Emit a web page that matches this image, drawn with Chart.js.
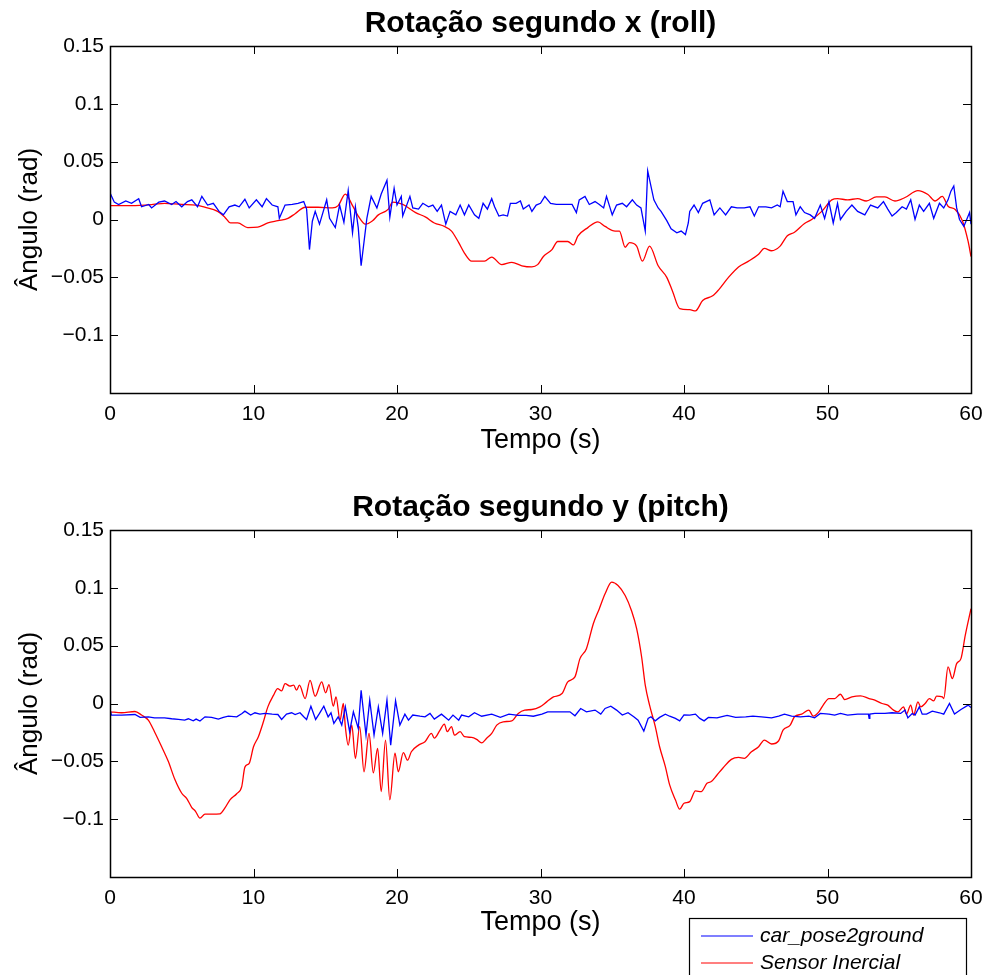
<!DOCTYPE html>
<html>
<head>
<meta charset="utf-8">
<script src="https://cdn.jsdelivr.net/npm/chart.js@4.4.1/dist/chart.umd.min.js"></script>
<style>
  body { margin: 0; background: #fff; }
  canvas { position: absolute; left: 0; }
  #roll { top: 0; }
  #pitch { top: 484px; }
</style>
</head>
<body>
<canvas id="roll" width="987" height="484"></canvas>
<canvas id="pitch" width="987" height="491"></canvas>
<script>
// valores (tempo em s, angulo em rad)
const seriesNames = ['car_pose2ground', 'Sensor Inercial'];
const xTicks = [0, 10, 20, 30, 40, 50, 60];
const yTicks = [-0.15, -0.1, -0.05, 0, 0.05, 0.1, 0.15];

// roll - car_pose2ground
const rollCarT = [0, 0.3, 0.6, 1.1, 1.5, 2.0, 2.2, 2.7, 2.9, 3.4, 3.8, 4.3, 4.6, 5.0, 5.4, 5.7, 6.1, 6.4, 6.8, 7.2, 7.6, 7.9, 8.3, 8.7, 9.0, 9.4, 9.7, 10.2, 10.6, 10.9, 11.3, 11.7, 11.8, 12.2, 12.7, 13.1, 13.5, 13.7, 13.9, 14.1, 14.3, 14.6, 15.1, 15.3, 15.7, 16.0, 16.3, 16.6, 16.9, 17.1, 17.3, 17.5, 17.9, 18.2, 18.6, 18.9, 19.3, 19.5, 19.8, 20.0, 20.3, 20.4, 20.9, 21.1, 21.5, 21.8, 22.2, 22.5, 22.8, 23.1, 23.4, 23.7, 24.1, 24.4, 24.7, 25.0, 25.4, 25.7, 26.0, 26.3, 26.6, 26.8, 27.1, 27.4, 27.7, 27.9, 28.3, 28.6, 28.8, 29.2, 29.4, 29.7, 30.0, 30.3, 30.7, 31.1, 31.6, 32.2, 32.5, 32.7, 33.1, 33.4, 33.8, 34.1, 34.4, 34.6, 35.0, 35.3, 35.7, 36.0, 36.4, 36.7, 37.0, 37.3, 37.47, 37.9, 38.2, 38.4, 38.8, 39.1, 39.5, 39.8, 40.1, 40.3, 40.4, 40.7, 41.0, 41.3, 41.8, 42.1, 42.5, 42.9, 43.3, 43.7, 44.2, 44.6, 44.9, 45.2, 45.7, 46.1, 46.5, 46.7, 46.9, 47.2, 47.6, 47.8, 48.1, 48.4, 48.8, 49.1, 49.5, 49.8, 50.1, 50.4, 50.7, 50.9, 51.3, 51.7, 52.1, 52.6, 53.0, 53.5, 53.9, 54.2, 54.5, 54.8, 55.2, 55.5, 55.8, 56.1, 56.4, 56.7, 57.1, 57.4, 57.8, 58.1, 58.4, 58.6, 58.8, 59.0, 59.2, 59.5, 59.7, 59.9, 60.0];
const rollCar = [0.023, 0.015, 0.013, 0.016, 0.014, 0.018, 0.011, 0.013, 0.010, 0.015, 0.016, 0.013, 0.0155, 0.011, 0.0155, 0.017, 0.011, 0.020, 0.0125, 0.014, 0.007, 0.004, 0.011, 0.0125, 0.011, 0.0175, 0.010, 0.017, 0.011, 0.018, 0.0125, 0.011, 0.001, 0.0125, 0.013, 0.014, 0.0155, 0.009, -0.026, -0.0015, 0.007, -0.004, 0.017, 0.001, -0.007, 0.0125, -0.0025, 0.025, -0.0115, 0.011, -0.007, -0.040, 0.001, 0.020, 0.010, 0.022, 0.034, 0.002, 0.027, 0.0125, 0.020, 0.003, 0.020, 0.010, 0.009, 0.014, 0.011, 0.0125, 0.007, 0.0125, -0.004, 0.007, 0.004, 0.0125, 0.004, 0.0125, 0.004, 0.001, 0.014, 0.009, 0.018, 0.011, 0.003, 0.004, 0.003, 0.014, 0.014, 0.016, 0.009, 0.0125, 0.007, 0.0125, 0.014, 0.020, 0.014, 0.013, 0.013, 0.013, 0.006, 0.017, 0.020, 0.013, 0.0155, 0.013, 0.010, 0.020, 0.004, 0.0125, 0.014, 0.011, 0.017, 0.0125, 0.010, -0.010, 0.042, 0.017, 0.010, 0.007, -0.001, -0.008, -0.0115, -0.010, -0.013, -0.003, 0.007, 0.0125, 0.006, 0.014, 0.017, 0.004, 0.010, 0.004, 0.011, 0.010, 0.010, 0.011, 0.003, 0.011, 0.011, 0.010, 0.0125, 0.011, 0.0245, 0.0155, 0.0155, 0.004, 0.011, 0.006, 0.004, 0.001, 0.0125, 0.001, 0.0155, -0.003, 0.014, 0.0, 0.007, 0.0125, 0.007, 0.004, 0.0125, 0.010, 0.0155, 0.009, 0.003, 0.006, 0.011, 0.009, 0.017, 0.0, 0.0125, 0.007, 0.014, 0.001, 0.014, 0.010, 0.017, 0.0245, 0.029, 0.010, 0.0, -0.006, 0.0, 0.006, -0.004];

// roll - sensor inercial
const rollImuT = [0, 1.5, 3.0, 3.8, 5.0, 6.0, 6.6, 7.5, 8.0, 8.4, 8.9, 9.6, 10.3, 11.0, 11.7, 12.4, 12.9, 13.6, 14.5, 15.5, 15.9, 16.4, 16.9, 17.3, 17.8, 18.3, 18.7, 19.4, 19.7, 20.4, 21.3, 22.0, 22.6, 23.3, 23.8, 24.3, 24.7, 25.2, 25.7, 26.1, 26.6, 27.3, 28.0, 28.7, 29.4, 29.8, 30.2, 30.8, 31.2, 31.9, 32.3, 32.6, 33.3, 34.0, 34.5, 35.2, 35.5, 35.9, 36.2, 36.7, 37.1, 37.6, 38.2, 38.8, 39.2, 39.7, 40.4, 40.8, 41.3, 42.0, 42.4, 43.1, 43.8, 44.5, 45.2, 45.6, 46.1, 46.7, 47.2, 47.7, 48.4, 48.9, 49.6, 50.3, 50.7, 51.4, 52.1, 52.7, 53.4, 54.0, 54.7, 55.4, 56.3, 57.0, 57.5, 58.0, 58.4, 58.9, 59.4, 59.8, 60.0];
const rollImu = [0.012, 0.012, 0.013, 0.014, 0.013, 0.0125, 0.0106, 0.007, 0.002, -0.003, -0.003, -0.007, -0.0066, -0.003, -0.001, 0.001, 0.005, 0.0106, 0.0106, 0.010, 0.012, 0.022, 0.012, 0.003, -0.004, -0.001, 0.004, 0.009, 0.015, 0.013, 0.006, 0.002, -0.003, -0.006, -0.010, -0.020, -0.029, -0.036, -0.036, -0.036, -0.0325, -0.039, -0.037, -0.040, -0.041, -0.039, -0.032, -0.026, -0.019, -0.019, -0.022, -0.0144, -0.007, -0.002, -0.006, -0.010, -0.010, -0.024, -0.020, -0.023, -0.036, -0.023, -0.040, -0.050, -0.062, -0.077, -0.078, -0.079, -0.070, -0.066, -0.061, -0.050, -0.041, -0.036, -0.030, -0.025, -0.027, -0.023, -0.014, -0.011, -0.0034, 0, 0.007, 0.017, 0.018, 0.017, 0.018, 0.016, 0.0195, 0.0195, 0.016, 0.019, 0.025, 0.0216, 0.016, 0.020, 0.0115, 0.0086, -0.001, -0.019, -0.032];

// pitch - car_pose2ground
const pitchCarT = [0, 0.1, 0.81, 1.74, 2.1, 2.67, 3.1, 3.8, 4.3, 4.76, 5.2, 5.46, 5.8, 6.0, 6.27, 6.62, 7.08, 7.55, 7.9, 8.25, 8.83, 9.2, 9.4, 9.8, 10.1, 10.45, 10.8, 11.3, 11.7, 11.96, 12.3, 12.66, 12.9, 13.24, 13.5, 13.7, 14.0, 14.33, 14.6, 14.9, 15.2, 15.4, 15.6, 15.9, 16.15, 16.4, 16.7, 16.96, 17.3, 17.5, 17.84, 18.1, 18.4, 18.7, 19.0, 19.3, 19.56, 19.9, 20.2, 20.55, 20.8, 21.1, 21.6, 21.95, 22.3, 22.6, 23.1, 23.6, 23.9, 24.3, 24.5, 25.0, 25.4, 25.9, 26.6, 27.2, 27.8, 28.45, 29.0, 29.5, 30.1, 30.5, 31.5, 32.05, 32.4, 32.8, 33.2, 33.8, 34.2, 34.5, 34.9, 35.3, 35.7, 36.1, 36.5, 36.8, 37.2, 37.5, 37.7, 38.0, 38.3, 38.7, 39.0, 39.4, 39.7, 40.0, 40.4, 40.8, 41.1, 41.4, 41.7, 42.3, 43.0, 43.6, 44.3, 44.8, 45.4, 46.1, 46.6, 47.0, 47.5, 48.1, 48.7, 49.1, 49.5, 50.1, 50.5, 50.9, 51.4, 52.1, 52.85, 52.9, 52.95, 53.3, 54.0, 54.5, 55.1, 55.4, 55.6, 55.9, 56.1, 56.4, 56.6, 56.9, 57.3, 57.8, 58.1, 58.5, 58.85, 59.3, 59.8, 60.0];
const pitchCar = [-0.005, -0.010, -0.010, -0.0095, -0.012, -0.0115, -0.0124, -0.0124, -0.0132, -0.0138, -0.0144, -0.0132, -0.015, -0.0135, -0.0152, -0.0115, -0.012, -0.0135, -0.012, -0.011, -0.0115, -0.0086, -0.0066, -0.010, -0.008, -0.0092, -0.0086, -0.0092, -0.0095, -0.0138, -0.0092, -0.008, -0.0095, -0.008, -0.0115, -0.0138, -0.0023, -0.0138, -0.0086, -0.0023, -0.0115, -0.008, -0.0172, -0.0115, -0.0187, -0.0029, -0.0244, -0.0072, -0.0216, 0.0115, -0.0273, 0.0029, -0.0273, -0.0029, -0.0259, 0.0029, -0.036, 0.0023, -0.0187, -0.0092, -0.0144, -0.010, -0.011, -0.0115, -0.0086, -0.0135, -0.0092, -0.0144, -0.010, -0.0144, -0.010, -0.0115, -0.008, -0.011, -0.0092, -0.012, -0.0092, -0.0103, -0.0103, -0.011, -0.0092, -0.0072, -0.0072, -0.0072, -0.0106, -0.0043, -0.0072, -0.0057, -0.0092, -0.0043, -0.0023, -0.0057, -0.010, -0.008, -0.0115, -0.0144, -0.0239, -0.0129, -0.0115, -0.015, -0.012, -0.0092, -0.011, -0.0129, -0.015, -0.0098, -0.010, -0.0092, -0.0129, -0.015, -0.012, -0.0124, -0.0103, -0.012, -0.0115, -0.011, -0.0115, -0.0124, -0.011, -0.0092, -0.011, -0.0115, -0.011, -0.0124, -0.0086, -0.0092, -0.010, -0.0086, -0.010, -0.0092, -0.0092, -0.0129, -0.0092, -0.0086, -0.0086, -0.008, -0.0086, -0.0057, -0.0124, -0.0086, -0.010, -0.0029, -0.0092, -0.0092, -0.0066, -0.008, -0.0092, 0, -0.0092, -0.0052, -0.0014, -0.0035];

// pitch - sensor inercial
const pitchImuT = [0, 0.81, 1.74, 2.2, 2.67, 3.1, 3.6, 4.06, 4.53, 5.0, 5.34, 5.69, 5.97, 6.27, 6.62, 7.08, 7.66, 8.0, 8.36, 8.83, 9.18, 9.4, 9.7, 10.0, 10.34, 10.69, 11.0, 11.4, 11.68, 11.96, 12.2, 12.54, 12.8, 13.0, 13.2, 13.6, 13.94, 14.3, 14.75, 15.03, 15.26, 15.56, 15.75, 16.03, 16.26, 16.4, 16.6, 16.85, 17.1, 17.4, 17.7, 18.05, 18.35, 18.65, 18.9, 19.2, 19.5, 19.86, 20.09, 20.44, 20.74, 21.0, 21.5, 21.95, 22.4, 22.6, 23.0, 23.3, 23.5, 23.8, 24.0, 24.4, 24.7, 25.2, 25.55, 25.9, 26.25, 26.6, 26.95, 27.4, 28.0, 28.45, 28.9, 29.4, 29.96, 30.43, 30.9, 31.5, 31.9, 32.4, 32.75, 33.2, 33.68, 34.1, 34.5, 34.96, 35.4, 35.9, 36.35, 36.7, 37.05, 37.3, 37.6, 38.0, 38.3, 38.7, 39.0, 39.4, 39.7, 40.0, 40.4, 40.8, 41.2, 41.6, 41.9, 42.3, 42.7, 43.3, 43.8, 44.2, 44.7, 45.2, 45.6, 46.1, 46.6, 46.9, 47.4, 47.7, 48.2, 48.7, 49.0, 49.4, 49.7, 50.1, 50.5, 50.9, 51.2, 51.7, 52.3, 52.9, 53.3, 53.8, 54.2, 54.6, 54.9, 55.3, 55.5, 55.8, 56.0, 56.3, 56.5, 56.8, 57.1, 57.4, 57.6, 58.0, 58.1, 58.4, 58.7, 59.0, 59.3, 59.6, 60.0];
const pitchImu = [-0.0072, -0.008, -0.0069, -0.010, -0.0144, -0.0244, -0.0374, -0.050, -0.066, -0.0776, -0.082, -0.0897, -0.0934, -0.0991, -0.0957, -0.0957, -0.0954, -0.0905, -0.0833, -0.078, -0.0718, -0.055, -0.0517, -0.0374, -0.0287, -0.0158, -0.0029, 0.0072, 0.0129, 0.011, 0.0172, 0.015, 0.0158, 0.0115, 0.0158, 0.0043, 0.020, 0.0063, 0.0187, 0.0092, 0.0164, -0.0023, 0.0057, -0.0144, 0, -0.020, -0.036, -0.0187, -0.0474, -0.020, -0.059, -0.0259, -0.060, -0.0388, -0.0761, -0.0316, -0.0833, -0.043, -0.059, -0.0425, -0.049, -0.0417, -0.036, -0.033, -0.0259, -0.030, -0.023, -0.0178, -0.0244, -0.020, -0.0273, -0.0244, -0.0287, -0.0293, -0.031, -0.034, -0.030, -0.0259, -0.0187, -0.0158, -0.015, -0.0086, -0.0057, -0.0052, -0.0029, 0.0014, 0.0057, 0.0086, 0.0187, 0.023, 0.0388, 0.0474, 0.069, 0.082, 0.0948, 0.1049, 0.102, 0.0934, 0.080, 0.0647, 0.040, 0.0158, -0.0014, -0.020, -0.0374, -0.0546, -0.0704, -0.0833, -0.0914, -0.0862, -0.0848, -0.0756, -0.0762, -0.069, -0.0675, -0.0618, -0.056, -0.0483, -0.0466, -0.0474, -0.0417, -0.0374, -0.0316, -0.035, -0.0322, -0.023, -0.0187, -0.0115, -0.0092, -0.0057, -0.0109, -0.0072, -0.0014, 0.0043, 0.0043, 0.008, 0.0034, 0.0057, 0.0066, 0.0043, 0.0029, 0, -0.0014, -0.0057, -0.0072, -0.0029, -0.0092, -0.0014, -0.010, 0.0014, -0.0029, 0, 0.0043, 0.0023, 0.0063, 0.0057, 0.0043, 0.0316, 0.0216, 0.0345, 0.0388, 0.0589, 0.082];

Chart.defaults.font.family = "'Liberation Sans', Arial, Helvetica, sans-serif";
Chart.defaults.color = '#000';

function pts(t, v) {
    return t.map((x, i) => ({ x: x, y: v[i] }));
}

function fmt(v) {
    const s = String(Number(Math.abs(v).toFixed(2)));
    return v < -1e-9 ? '\u2212' + s : s;
}

// caixa e marcas de escala para dentro, estilo matlab
const boxPlugin = {
    id: 'boxPlugin',
    afterDraw(chart) {
        const ctx = chart.ctx;
        const a = chart.chartArea;
        const xs = chart.scales.x, ys = chart.scales.y;
        const len = 8;
        ctx.save();
        ctx.strokeStyle = '#000';
        ctx.lineWidth = 1;
        ctx.beginPath();
        xTicks.forEach(t => {
            const px = Math.round(xs.getPixelForValue(t)) + 0.5;
            ctx.moveTo(px, a.bottom); ctx.lineTo(px, a.bottom - len);
            ctx.moveTo(px, a.top); ctx.lineTo(px, a.top + len);
        });
        yTicks.forEach(t => {
            const py = Math.round(ys.getPixelForValue(t)) + 0.5;
            ctx.moveTo(a.left, py); ctx.lineTo(a.left + len, py);
            ctx.moveTo(a.right, py); ctx.lineTo(a.right - len, py);
        });
        ctx.stroke();
        ctx.lineWidth = 1.5;
        ctx.strokeRect(Math.round(a.left) + 0.5, Math.round(a.top) + 0.5,
            Math.round(a.right - a.left), Math.round(a.bottom - a.top));
        ctx.restore();
    }
};

const legendPlugin = {
    id: 'boxLegend',
    afterDraw(chart) {
        if (!chart.options.plugins.boxLegend) return;
        const ctx = chart.ctx;
        ctx.save();
        ctx.fillStyle = '#fff';
        ctx.fillRect(690, 435, 277, 60);
        ctx.strokeStyle = '#000';
        ctx.lineWidth = 1.2;
        ctx.strokeRect(689.5, 434.5, 277, 70);
        ctx.font = "italic 21px 'Liberation Sans', Arial, sans-serif";
        ctx.textBaseline = 'middle';
        chart.data.datasets.forEach((ds, i) => {
            const y = 452 + i * 27;
            ctx.strokeStyle = ds.borderColor;
            ctx.lineWidth = 1.2;
            ctx.beginPath();
            ctx.moveTo(701, y); ctx.lineTo(753, y);
            ctx.stroke();
            ctx.fillStyle = '#000';
            ctx.fillText(ds.label, 760, y);
        });
        ctx.restore();
    }
};

function makeChart(id, title, carT, car, imuT, imu, xScaleHeight, xTitlePad, withLegend) {
    return new Chart(document.getElementById(id), {
        type: 'line',
        data: {
            datasets: [
                { label: seriesNames[0], data: pts(carT, car), borderColor: '#0000ff', borderWidth: 1.3, pointRadius: 0, tension: 0 },
                { label: seriesNames[1], data: pts(imuT, imu), borderColor: '#ff0000', borderWidth: 1.3, pointRadius: 0, cubicInterpolationMode: 'monotone' }
            ]
        },
        options: {
            responsive: false,
            animation: false,
            devicePixelRatio: 1,
            layout: { padding: { left: 0, right: 16, top: 0, bottom: 0 } },
            plugins: {
                legend: { display: false },
                tooltip: { enabled: false },
                title: {
                    display: true,
                    text: title,
                    fullSize: false,
                    color: '#000',
                    font: { size: 30, weight: 'bold' },
                    padding: { top: 6, bottom: 4 }
                },
                boxLegend: withLegend
            },
            scales: {
                x: {
                    type: 'linear',
                    min: 0,
                    max: 60,
                    grid: { display: false, drawTicks: false },
                    border: { display: false },
                    afterBuildTicks: s => { s.ticks = xTicks.map(v => ({ value: v })); },
                    ticks: { font: { size: 21 }, padding: 9, maxRotation: 0, callback: v => String(v) },
                    title: { display: true, text: 'Tempo (s)', font: { size: 27 }, padding: { top: 0, bottom: xTitlePad } },
                    afterFit: s => { s.height = xScaleHeight; s.paddingLeft = 0; s.paddingRight = 0; }
                },
                y: {
                    min: -0.15,
                    max: 0.15,
                    grid: { display: false, drawTicks: false },
                    border: { display: false },
                    afterBuildTicks: s => { s.ticks = yTicks.map(v => ({ value: v })); },
                    ticks: { font: { size: 21 }, padding: 6, callback: v => (v < -0.149 ? '' : fmt(v)) },
                    title: { display: true, text: 'Ângulo (rad)', font: { size: 26 }, padding: { top: 14, bottom: 0 } },
                    afterFit: s => { s.width = 110; s.paddingTop = 0; s.paddingBottom = 0; }
                }
            }
        },
        plugins: [boxPlugin, legendPlugin]
    });
}

makeChart('roll', 'Rotação segundo x (roll)', rollCarT, rollCar, rollImuT, rollImu, 91, 27, false);
makeChart('pitch', 'Rotação segundo y (pitch)', pitchCarT, pitchCar, pitchImuT, pitchImu, 98, 36, true);
</script>
</body>
</html>
